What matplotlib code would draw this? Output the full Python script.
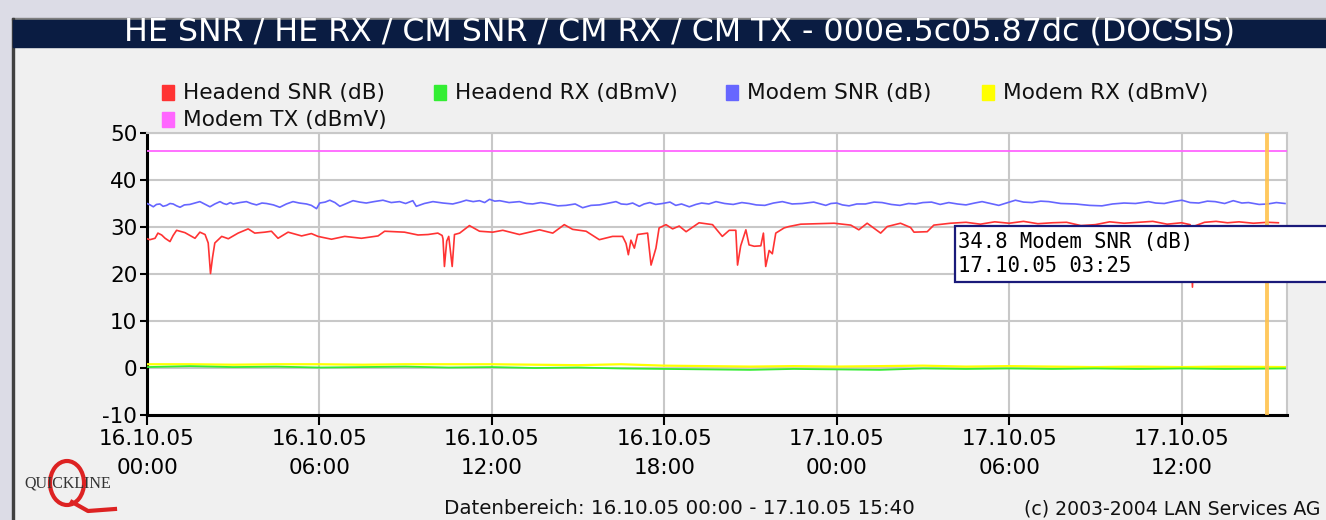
import matplotlib.pyplot as plt
from matplotlib.patches import Rectangle, Ellipse

plt.rcParams['axes.unicode_minus'] = False

# hours since 16.10.05 00:00
red_t = [0, 0.1, 0.28, 0.38, 0.51, 0.63, 0.8, 0.91, 1.03, 1.32, 1.67, 1.84, 2.02, 2.13, 2.21, 2.28,
         2.36, 2.6, 2.83, 3.17, 3.52, 3.75, 4.1, 4.33, 4.56, 4.91, 5.38, 5.72, 5.95, 6.42, 6.88,
         7.46, 8.04, 8.27, 8.96, 9.43, 9.78, 10.12, 10.27, 10.3, 10.35, 10.43, 10.5, 10.62, 10.7,
         10.88, 11.22, 11.57, 12.03, 12.38, 12.96, 13.31, 13.66, 14.12, 14.52, 14.81, 15.28, 15.74,
         16.2, 16.55, 16.67, 16.75, 16.84, 16.96, 17.07, 17.42, 17.54, 17.71, 17.82, 18.06, 18.29,
         18.52, 18.76, 19.21, 19.68, 20.02, 20.26, 20.49, 20.55, 20.66, 20.84, 20.95, 21.13, 21.36,
         21.45, 21.53, 21.65, 21.76, 21.88, 22.17, 22.34, 22.75, 23.33, 23.91, 24.49, 24.77, 25.06,
         25.53, 25.76, 26.22, 26.57, 26.69, 27.15, 27.38, 27.96, 28.5, 29.0, 29.5, 30.0, 30.5, 31.0,
         31.5, 32.0, 32.5, 33.0, 33.5, 34.0, 34.5, 35.0, 35.5, 36.0, 36.3, 36.38, 36.45, 36.8, 37.2,
         37.6, 38.0, 38.5, 39.0, 39.37]
red_v = [27.5, 27.3, 27.6, 28.7, 28.3, 27.6, 26.9, 28.2, 29.3, 28.8, 27.6, 28.9, 28.4, 26.6, 20.1, 23.5,
         26.6, 28.0, 27.5, 28.7, 29.6, 28.7, 28.9, 29.1, 27.6, 28.9, 28.1, 28.6, 28.0, 27.4, 28.0,
         27.6, 28.1, 29.1, 28.9, 28.3, 28.4, 28.7, 28.2, 27.5, 21.6, 27.0, 28.0, 21.6, 28.4,
         28.7, 30.3, 29.1, 28.9, 29.3, 28.4, 28.9, 29.4, 28.7, 30.5, 29.5, 29.1, 27.3,
         28.0, 28.0, 26.5, 24.1, 27.2, 25.5, 28.4, 28.7, 21.9, 25.5, 29.8, 30.5, 29.6,
         30.2, 29.0, 30.9, 30.5, 28.0, 29.3, 29.3, 21.9, 26.0, 29.4, 26.2, 25.9, 26.0,
         28.7, 21.6, 25.0, 24.3, 28.7, 29.8, 30.1, 30.6, 30.7, 30.8, 30.4, 29.4, 30.8,
         28.7, 30.1, 30.8, 29.9, 28.9, 29.0, 30.4, 30.8, 31.0, 30.6, 31.1, 30.8, 31.2, 30.7,
         30.9, 31.0, 30.3, 30.5, 31.1, 30.8, 31.0, 31.2, 30.6, 30.9, 30.5, 17.2, 30.2, 31.0, 31.2,
         30.9, 31.1, 30.8, 31.0, 30.9]

blue_t = [0, 0.11, 0.22, 0.33, 0.45, 0.56, 0.68, 0.8, 0.91, 1.03, 1.15, 1.3, 1.49, 1.66, 1.84, 2.0,
          2.19, 2.36, 2.54, 2.66, 2.77, 2.9, 3.0, 3.23, 3.46, 3.63, 3.81, 4.0, 4.16, 4.4, 4.62, 4.85,
          5.08, 5.3, 5.55, 5.72, 5.9, 6.01, 6.2, 6.36, 6.54, 6.71, 6.94, 7.17, 7.4, 7.63, 7.9, 8.21,
          8.5, 8.79, 9.0, 9.25, 9.37, 9.65, 9.95, 10.3, 10.64, 10.9, 11.11, 11.35, 11.57, 11.75,
          11.92, 12.1, 12.27, 12.6, 12.96, 13.2, 13.42, 13.7, 13.99, 14.3, 14.58, 14.9, 15.16, 15.45,
          15.74, 16.0, 16.32, 16.5, 16.7, 16.9, 17.13, 17.3, 17.5, 17.7, 17.94, 18.2, 18.4, 18.6,
          18.87, 19.1, 19.3, 19.55, 19.8, 20.1, 20.4, 20.7, 20.95, 21.2, 21.5, 21.8, 22.11, 22.45,
          22.8, 23.2, 23.62, 23.8, 24.0, 24.2, 24.43, 24.7, 25.0, 25.3, 25.58, 25.9, 26.2, 26.5,
          26.74, 27.0, 27.3, 27.6, 27.9, 28.2, 28.5, 28.8, 29.06, 29.35, 29.64, 29.9, 30.22, 30.5,
          30.8, 31.1, 31.38, 31.8, 32.3, 32.8, 33.23, 33.6, 34.0, 34.4, 34.85, 35.1, 35.4, 35.7,
          36.01, 36.3, 36.6, 36.9, 37.17, 37.5, 37.8, 38.1, 38.33, 38.7, 39.0, 39.3, 39.6]
blue_v = [35.0, 34.7, 34.3, 34.8, 34.9, 34.4, 34.6, 35.0, 34.9, 34.5, 34.2, 34.7, 34.8, 35.1, 35.4, 34.9,
          34.3, 34.9, 35.4, 35.0, 34.8, 35.2, 34.9, 35.2, 35.4, 35.0, 34.7, 35.1, 35.0, 34.7, 34.2, 34.9,
          35.4, 35.1, 34.9, 34.6, 33.9, 35.1, 35.3, 35.7, 35.2, 34.4, 35.0, 35.6, 35.3, 35.1, 35.4, 35.7,
          35.2, 35.4, 35.0, 35.6, 34.4, 35.0, 35.4, 35.1, 34.9, 35.3, 35.7, 35.4, 35.6, 35.2,
          35.9, 35.5, 35.6, 35.2, 35.4, 35.0, 34.9, 35.2, 34.9, 34.5, 34.6, 34.9, 34.1, 34.6,
          34.7, 35.0, 35.4, 34.9, 34.8, 35.1, 34.4, 34.9, 35.2, 34.8, 35.0, 35.3, 34.6, 34.9,
          34.3, 34.8, 35.1, 34.9, 35.4, 35.0, 34.8, 35.2, 35.0, 34.7, 34.6, 35.1, 35.4, 34.9,
          35.0, 35.3, 34.6, 35.0, 35.1, 34.7, 34.5, 34.9, 34.9, 35.3, 35.2, 34.8, 34.6, 35.0,
          34.9, 35.2, 35.3, 34.8, 35.2, 34.9, 34.7, 35.1, 35.4, 35.0, 34.6, 35.1, 35.7, 35.3,
          35.2, 35.5, 35.4, 35.0, 34.9, 34.6, 34.5, 34.9, 35.1, 35.0, 35.4, 35.1, 35.0, 35.4,
          35.7, 35.2, 35.1, 35.5, 35.4, 35.0, 35.6, 35.1, 35.2, 34.8, 34.9, 35.2, 35.0]

green_t = [0, 1.5, 3, 4.5, 6, 7.5, 9, 10.5, 12, 13.5, 15, 16.5, 18, 19.5, 21, 22.5, 24, 25.5, 27,
           28.5, 30, 31.5, 33, 34.5, 36, 37.5, 39.6]
green_v = [0.2, 0.4, 0.2, 0.3, 0.1, 0.2, 0.3, 0.1, 0.2, 0.0, 0.1, -0.1, -0.2, -0.3, -0.4, -0.2, -0.3,
           -0.4, -0.1, -0.2, -0.1, -0.2, -0.1, -0.2, -0.1, -0.2, -0.1]
yellow_v = [0.8, 0.8, 0.7, 0.8, 0.8, 0.7, 0.8, 0.8, 0.8, 0.7, 0.6, 0.8, 0.5, 0.4, 0.3, 0.4, 0.3,
            0.4, 0.5, 0.3, 0.4, 0.3, 0.2, 0.3, 0.2, 0.3, 0.2]

pink_t = [0, 39.67]
pink_v = [46.2, 46.2]

cursor_h = 38.98
x_end = 39.67

series_names = ['Headend SNR (dB)', 'Headend RX (dBmV)', 'Modem SNR (dB)', 'Modem RX (dBmV)', 'Modem TX (dBmV)']
series_colors = ['#ff3333', '#33ee33', '#6666ff', '#ffff00', '#ff66ff']
legend_xy = [(162, 93), (434, 93), (726, 93), (982, 93), (162, 120)]

tick_hours = [0, 6, 12, 18, 24, 30, 36]
tick_labels = ['16.10.05\n00:00', '16.10.05\n06:00', '16.10.05\n12:00', '16.10.05\n18:00',
               '17.10.05\n00:00', '17.10.05\n06:00', '17.10.05\n12:00']

W, H = 1326, 520
fig = plt.figure(figsize=(W / 100, H / 100), dpi=100)
fig.patch.set_facecolor('#f0f0f0')

def px(x, y, w, h):
    return (x / W, 1 - (y + h) / H, w / W, h / H)

def box(x, y, w, h, **kw):
    r = px(x, y, w, h)
    fig.patches.append(Rectangle(r[:2], r[2], r[3], transform=fig.transFigure, **kw))

# outer frame and title bar
box(0, 0, W, 18, color='#dcdce6', zorder=0)
box(0, 0, 12, H, color='#dcdce6', zorder=0)
box(12, 18, W - 12, 1.5, color='#808080', zorder=1)
box(12, 18, 1.5, H, color='#404040', zorder=1)
box(13, 20, W - 13, 27, color='#0a1c42', zorder=1)
fig.text(680 / W, 1 - 32 / H, 'HE SNR / HE RX / CM SNR / CM RX / CM TX - 000e.5c05.87dc (DOCSIS)',
         color='white', fontsize=22.8, ha='center', va='center', family='DejaVu Sans')

ax = fig.add_axes(px(147, 133, 1140, 282))
ax.set_facecolor('white')
ax.plot(pink_t, pink_v, color='#ff66ff', lw=1.3, zorder=3)
ax.plot(green_t, yellow_v, color='#ffff00', lw=1.6, zorder=3)
ax.plot(green_t, green_v, color='#33ee33', lw=1.3, zorder=4)
ax.plot(blue_t, blue_v, color='#6666ff', lw=1.2, zorder=4)
ax.plot(red_t, red_v, color='#ff3333', lw=1.2, zorder=5)
ax.axvline(cursor_h, color='#ffc24d', lw=2.8, alpha=0.9, zorder=6)

ax.set_xlim(0, x_end)
ax.set_ylim(-10, 50)
ax.set_yticks(range(-10, 51, 10))
ax.set_xticks(tick_hours)
ax.set_xticklabels(tick_labels)
for lab in ax.get_xticklabels():
    lab.set_linespacing(1.6)
ax.grid(True, color='#c8c8c8', lw=1.5, zorder=1)
ax.set_axisbelow(True)
for s in ['top', 'right']:
    ax.spines[s].set_color('#c8c8c8')
    ax.spines[s].set_linewidth(1.5)
for s in ['left', 'bottom']:
    ax.spines[s].set_color('black')
    ax.spines[s].set_linewidth(2.2)
ax.tick_params(axis='y', length=5, width=1.5, labelsize=15.5, pad=2, colors='black')
ax.tick_params(axis='x', length=7, width=1.5, labelsize=15.5, pad=3, colors='black')

# legend
for name, col, (lx, ly) in zip(series_names, series_colors, legend_xy):
    box(lx, ly - 8, 12, 15, color=col, zorder=2)
    fig.text((lx + 21) / W, 1 - ly / H, name, fontsize=15.6, va='center', ha='left', color='#111111')

# tooltip
box(955, 226, W - 955 + 5, 56, facecolor='white', edgecolor='#1a1a7a', lw=1.6, zorder=10)
fig.text(958 / W, 1 - 242 / H, '34.8 Modem SNR (dB)', family='DejaVu Sans Mono', fontsize=14.9,
         va='center', ha='left', zorder=11)
fig.text(958 / W, 1 - 266 / H, '17.10.05 03:25', family='DejaVu Sans Mono', fontsize=14.9,
         va='center', ha='left', zorder=11)

# footer
fig.text(679 / W, 1 - 509 / H, 'Datenbereich: 16.10.05 00:00 - 17.10.05 15:40', fontsize=14.3,
         ha='center', va='center', color='#111111')
fig.text(1320 / W, 1 - 509 / H, '(c) 2003-2004 LAN Services AG', fontsize=13.6,
         ha='right', va='center', color='#111111')

# logo: red Q ring behind the wordmark
fig.patches.append(Ellipse((67 / W, 1 - 483 / H), 34 / W, 44 / H, transform=fig.transFigure,
                           fill=False, edgecolor='#dd2222', lw=3, zorder=2))
fig.lines.append(plt.Line2D([72 / W, 88 / W, 115 / W], [1 - 502 / H, 1 - 511 / H, 1 - 509 / H],
                            transform=fig.transFigure, color='#dd2222', lw=3, zorder=2))
fig.text(68 / W, 1 - 484 / H, 'QUICKLINE', family='Liberation Serif', fontsize=11.5, color='#333333',
         ha='center', va='center', zorder=3)

fig.savefig('out.png', dpi=100, facecolor=fig.get_facecolor())
